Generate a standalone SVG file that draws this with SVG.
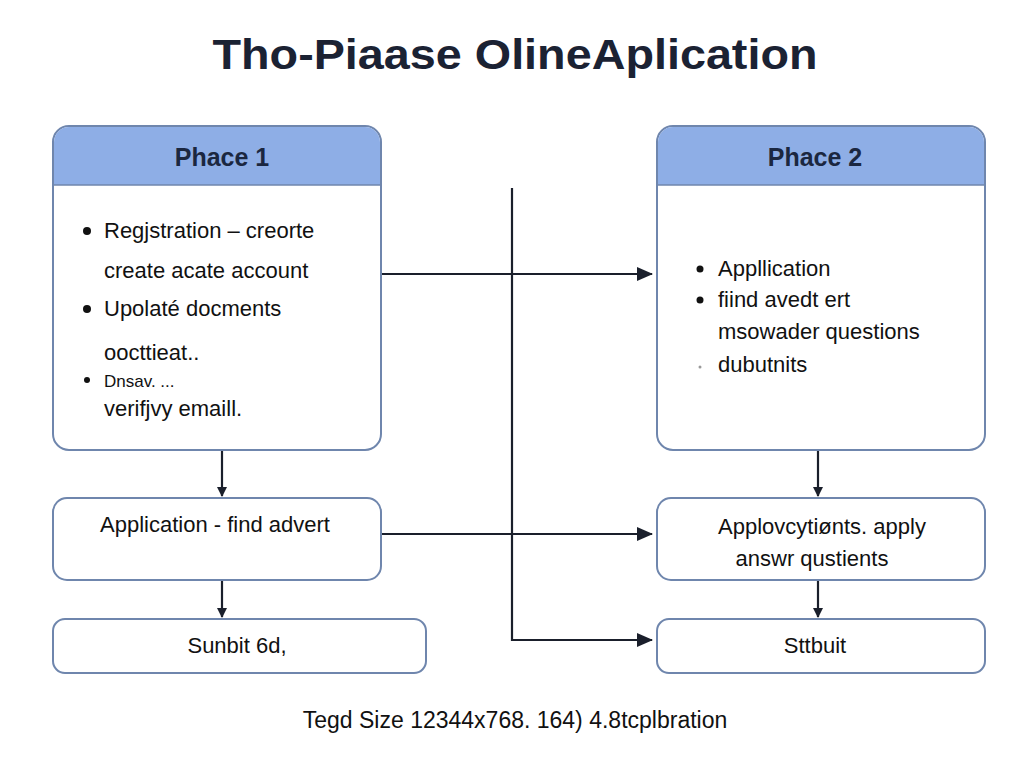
<svg xmlns="http://www.w3.org/2000/svg" width="1024" height="768" viewBox="0 0 1024 768">
<style>
text{font-family:"Liberation Sans",Arial,sans-serif;fill:#111}
.box{fill:#fff;stroke:#6f86ad;stroke-width:2}
.hd{fill:#8eaee6}
.t{font-size:22px}
.h{font-size:25px;font-weight:bold;fill:#1b2740}
.ln{stroke:#1a1f2b;stroke-width:2.2;fill:none}
</style>
<defs><marker id="a" markerWidth="10" markerHeight="10" refX="9" refY="5" orient="auto" markerUnits="userSpaceOnUse" viewBox="0 0 10 10"><path d="M0,0L10,5L0,10z" fill="#1a1f2b"/></marker>
<marker id="b" markerWidth="16" markerHeight="14" refX="15" refY="7" orient="auto" markerUnits="userSpaceOnUse" viewBox="0 0 16 14"><path d="M0,0L16,7L0,14z" fill="#1a1f2b"/></marker></defs>
<rect width="1024" height="768" fill="#fff"/>
<text x="515" y="69" text-anchor="middle" textLength="605" lengthAdjust="spacingAndGlyphs" style="font-size:42px;font-weight:bold;fill:#1b2233">Tho-Piaase OlineAplication</text>
<g id="phase1">
<rect class="box" x="53" y="126" width="328" height="324" rx="16"/>
<path class="hd" d="M54,185V142a15,15 0 0 1 15,-15H365a15,15 0 0 1 15,15V185z"/>
<line x1="54" y1="185" x2="380" y2="185" stroke="#6f86ad" stroke-width="1.5"/>
<text class="h" x="222" y="166" text-anchor="middle">Phace 1</text>
<circle cx="87" cy="231" r="4" fill="#111"/><text class="t" x="104" y="238">Regjstration – creorte</text>
<text class="t" x="104" y="278">create acate account</text>
<circle cx="87" cy="309" r="4" fill="#111"/><text class="t" x="104" y="316">Upolaté docments</text>
<text class="t" x="104" y="360">oocttieat..</text>
<circle cx="87" cy="380" r="3" fill="#111"/><text x="104" y="387" style="font-size:17px">Dnsav. ...</text>
<text class="t" x="104" y="416">verifjvy emaill.</text>
</g>
<g id="phase2">
<rect class="box" x="657" y="126" width="328" height="324" rx="16"/>
<path class="hd" d="M658,185V142a15,15 0 0 1 15,-15H969a15,15 0 0 1 15,15V185z"/>
<line x1="658" y1="185" x2="984" y2="185" stroke="#6f86ad" stroke-width="1.5"/>
<text class="h" x="815" y="166" text-anchor="middle">Phace 2</text>
<circle cx="700" cy="269" r="3.5" fill="#111"/><text class="t" x="718" y="276">Appllication</text>
<circle cx="700" cy="300" r="3.5" fill="#111"/><text class="t" x="718" y="307">fiind avedt ert</text>
<text class="t" x="718" y="339">msowader questions</text>
<circle cx="700" cy="367" r="1.5" fill="#999"/><text class="t" x="718" y="372">dubutnits</text>
</g>
<g id="app1"><rect class="box" x="53" y="498" width="328" height="82" rx="14"/><text class="t" x="215" y="532" text-anchor="middle">Application - find advert</text></g>
<g id="app2"><rect class="box" x="657" y="498" width="328" height="82" rx="14"/><text class="t" x="822" y="534" text-anchor="middle">Applovcytiønts. apply</text><text class="t" x="812" y="566" text-anchor="middle">answr qustients</text></g>
<g id="sub1"><rect class="box" x="53" y="619" width="373" height="54" rx="12"/><text class="t" x="237" y="653" text-anchor="middle">Sunbit 6d,</text></g>
<g id="sub2"><rect class="box" x="657" y="619" width="328" height="54" rx="12"/><text class="t" x="815" y="653" text-anchor="middle">Sttbuit</text></g>
<g id="connectors">
<line class="ln" x1="382" y1="274" x2="652" y2="274" marker-end="url(#b)"/>
<polyline class="ln" points="512,188 512,640 652,640" marker-end="url(#b)"/>
<line class="ln" x1="382" y1="534" x2="652" y2="534" marker-end="url(#b)"/>
<line class="ln" x1="222" y1="451" x2="222" y2="496" marker-end="url(#a)"/>
<line class="ln" x1="222" y1="581" x2="222" y2="617" marker-end="url(#a)"/>
<line class="ln" x1="818" y1="451" x2="818" y2="496" marker-end="url(#a)"/>
<line class="ln" x1="818" y1="581" x2="818" y2="617" marker-end="url(#a)"/>
</g>
<text x="515" y="728" text-anchor="middle" style="font-size:23px">Tegd Size 12344x768. 164) 4.8tcplbration</text>
</svg>
